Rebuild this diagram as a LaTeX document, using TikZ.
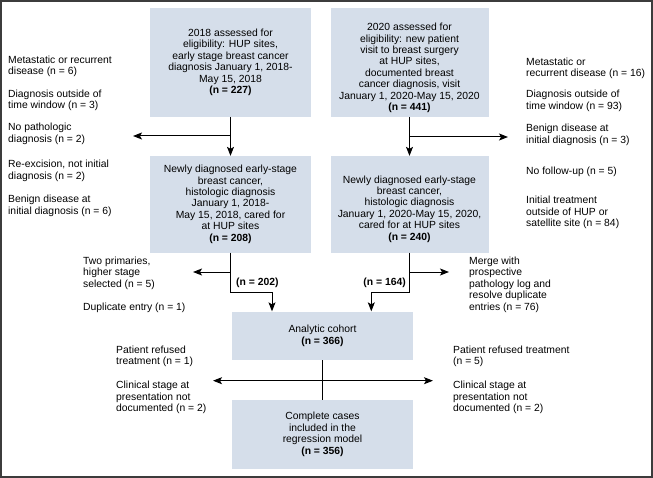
\documentclass[tikz,border=0pt]{standalone}
\usepackage{fontspec}
\setmainfont{Liberation Sans}
\usetikzlibrary{arrows.meta,positioning}

\definecolor{boxblue}{HTML}{D5DEEA}
\definecolor{framegray}{HTML}{3C3C3C}

\tikzset{
	box/.style={fill=boxblue, align=center, inner sep=0pt},
	boxtext/.style={align=center, inner sep=0pt},
	note/.style={align=left, anchor=west, inner sep=0pt},
	flow/.style={line width=1bp, -{Stealth[length=9bp,width=7bp,inset=2bp]}},
	flowboth/.style={line width=1bp, {Stealth[length=9bp,width=7bp,inset=2bp]}-{Stealth[length=9bp,width=7bp,inset=2bp]}},
}

\begin{document}
\begin{tikzpicture}[x=1bp, y=-1bp, font=\fontsize{10.4}{11.5}\selectfont]
	\useasboundingbox (0,0) rectangle (653,478);
	\draw
		[framegray, line width=1.6bp] (1,1) rectangle (652,477);

	% boxes
	\node[box, minimum width=161bp, minimum height=108.7bp] (assess18) at (230.5,62.3)
		{2018 assessed for\\eligibility: HUP sites,\\early stage breast cancer\\diagnosis January 1, 2018-\\May 15, 2018\\\textbf{(n = 227)}};

	\node[box, minimum width=158bp, minimum height=108.7bp] (assess20) at (409.5,62.3) {};
	\node[boxtext] (assess20txt) at (409.5,68)
		{2020 assessed for\\eligibility: new patient\\visit to breast surgery\\at HUP sites,\\documented breast\\cancer diagnosis, visit\\January 1, 2020-May 15, 2020\\\textbf{(n = 441)}};

	\node[box, minimum width=161bp, minimum height=96.5bp] (newdx18) at (230.5,204.3)
		{Newly diagnosed early-stage\\breast cancer,\\histologic diagnosis\\January 1, 2018-\\May 15, 2018, cared for\\at HUP sites\\\textbf{(n = 208)}};

	\node[box, minimum width=158bp, minimum height=96.5bp] (newdx20) at (409.5,204.3) {};
	\node[boxtext] (newdx20txt) at (409.5,209)
		{Newly diagnosed early-stage\\breast cancer,\\histologic diagnosis\\January 1, 2020-May 15, 2020,\\cared for at HUP sites\\\textbf{(n = 240)}};

	\node[box, minimum width=181bp, minimum height=48.5bp] (cohort) at (322.5,335.8)
		{Analytic cohort\\\textbf{(n = 366)}};

	\node[box, minimum width=181bp, minimum height=69bp] (complete) at (322.5,434.5)
		{Complete cases\\included in the\\regression model\\\textbf{(n = 356)}};

	% exclusions, 2018
	\node[note] (ex18a) at (8,66.5) {Metastatic or recurrent\\disease (n = 6)};
	\node[note] (ex18b) at (8,100.5) {Diagnosis outside of\\time window (n = 3)};
	\node[note] (ex18c) at (8,134) {No pathologic\\diagnosis (n = 2)};
	\node[note] (ex18d) at (8,171) {Re-excision, not initial\\diagnosis (n = 2)};
	\node[note] (ex18e) at (8,206) {Benign disease at\\initial diagnosis (n = 6)};

	% exclusions, 2020
	\node[note] (ex20a) at (526,68.5) {Metastatic or\\recurrent disease (n = 16)};
	\node[note] (ex20b) at (526,101) {Diagnosis outside of\\time window (n = 93)};
	\node[note] (ex20c) at (526,135) {Benign disease at\\initial diagnosis (n = 3)};
	\node[note] (ex20d) at (526,172) {No follow-up (n = 5)};
	\node[note] (ex20e) at (526,212.5) {Initial treatment\\outside of HUP or\\satellite site (n = 84)};

	\node[note] (dup18a) at (83,273) {Two primaries,\\higher stage\\selected (n = 5)};
	\node[note] (dup18b) at (83,308) {Duplicate entry (n = 1)};
	\node[note] (dup20) at (469,284.5) {Merge with\\prospective\\pathology log and\\resolve duplicate\\entries (n = 76)};

	\node[note] (ref18) at (116,356.5) {Patient refused\\treatment (n = 1)};
	\node[note] (stage18) at (116,397.5) {Clinical stage at\\presentation not\\documented (n = 2)};
	\node[note] (ref20) at (453,356.5) {Patient refused treatment\\(n = 5)};
	\node[note] (stage20) at (453,397.5) {Clinical stage at\\presentation not\\documented (n = 2)};

	\node[note] (n202) at (236,283) {\textbf{(n = 202)}};
	\node[note, anchor=east] (n164) at (406,283) {\textbf{(n = 164)}};

	% arrow ends
	\coordinate (split18) at (230.5,136);
	\coordinate (out18) at (133,136);
	\coordinate (split20) at (409.5,137);
	\coordinate (out20) at (508,137);
	\coordinate (split18b) at (230.5,272);
	\coordinate (out18b) at (193,272);
	\coordinate (split20b) at (409.5,272);
	\coordinate (out20b) at (449,272);
	\coordinate (outl) at (213,380.7);
	\coordinate (outr) at (433,380.7);

	\draw [flow] (assess18) -- (newdx18);
	\draw [flow] (split18) -- (out18);
	\draw [flow] (assess20) -- (newdx20);
	\draw [flow] (split20) -- (out20);

	\draw [flow] (newdx18.south) -- ++(0,39.5) -| ([xshift=-50.5bp]cohort.north);
	\draw [flow] (split18b) -- (out18b);
	\draw [flow] (newdx20.south) -- ++(0,39.5) -| ([xshift=48.8bp]cohort.north);
	\draw [flow] (split20b) -- (out20b);

	\draw [line width=1bp] (cohort) -- (complete);
	\draw [flowboth] (outl) -- (outr);
\end{tikzpicture}
\end{document}
